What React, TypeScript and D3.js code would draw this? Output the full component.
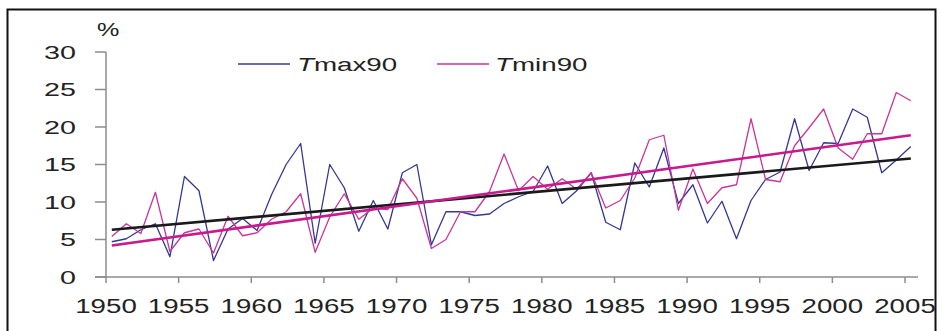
import * as d3 from 'd3';

// Années 1950–2005
const years: number[] = d3.range(1950, 2006);

// Fréquence des jours chauds (%)
const tmax90: number[] = [
  4.7, 5.1, 6.3, 7.1, 2.7, 13.4, 11.5, 2.2, 6.4, 7.8,
  6.2, 11.0, 15.0, 17.8, 4.5, 15.0, 11.9, 6.1, 10.2, 6.4,
  13.9, 15.0, 4.3, 8.7, 8.7, 8.2, 8.4, 9.8, 10.7, 11.4,
  14.8, 9.8, 11.5, 13.9, 7.3, 6.3, 15.2, 12.0, 17.2, 9.8,
  12.3, 7.2, 10.1, 5.1, 10.2, 13.0, 14.0, 21.1, 14.2, 17.9,
  17.8, 22.4, 21.3, 13.9, 15.6, 17.4,
];

// Fréquence des nuits chaudes (%)
const tmin90: number[] = [
  5.4, 7.1, 5.8, 11.3, 3.4, 5.9, 6.4, 3.2, 8.1, 5.5,
  5.9, 7.7, 8.7, 11.1, 3.3, 8.0, 11.1, 7.7, 9.2, 9.0,
  13.1, 10.5, 3.8, 5.0, 8.7, 8.7, 11.4, 16.4, 11.5, 13.4,
  11.7, 13.1, 11.7, 13.9, 9.2, 10.2, 13.2, 18.3, 18.9, 8.9,
  14.4, 9.8, 11.9, 12.3, 21.1, 13.0, 12.7, 17.5, 19.9, 22.4,
  17.2, 15.7, 19.1, 19.1, 24.6, 23.5,
];

// Tendances linéaires (valeurs début / fin)
const trendYears: number[] = [1950, 2005];
const trendTmax: number[] = [6.3, 15.8];
const trendTmin: number[] = [4.2, 18.9];

const yTicks: number[] = [0, 5, 10, 15, 20, 25, 30];
const xTicks: number[] = d3.range(1950, 2006, 5);

const BLUE = '#343891';
const PINK = '#c8369a';
const PINK_TREND = '#c71a8e';
const AXIS = '#8c8c8c';
const FONT = '"Liberation Sans", Arial, sans-serif';

// Décalage des points au centre de la catégorie
const OFFSET = 0.4;

export default function App() {
  const W = 942;
  const H = 331;

  const x = d3.scaleLinear().domain([1950, 2005]).range([106, 905]);
  const y = d3.scaleLinear().domain([0, 30]).range([277, 52]);

  const line = d3.line<[number, number]>()
    .x(d => x(d[0] + OFFSET))
    .y(d => y(d[1]));

  const seriesMax = years.map((yr, i) => [yr, tmax90[i]] as [number, number]);
  const seriesMin = years.map((yr, i) => [yr, tmin90[i]] as [number, number]);
  const tMax = trendYears.map((yr, i) => [yr, trendTmax[i]] as [number, number]);
  const tMin = trendYears.map((yr, i) => [yr, trendTmin[i]] as [number, number]);

  const stretched = (tx: number, ty: number, sx: number) =>
    `translate(${tx},${ty}) scale(${sx},1)`;

  return (
    <svg
      width={W}
      height={H}
      style={{ position: 'absolute', left: 0, top: 0, background: '#fff' }}
      fontFamily={FONT}
    >
      {/* cadre */}
      <rect x={7.5} y={9.5} width={928} height={340} fill="none" stroke="#111" strokeWidth={2} />

      {/* axe Y */}
      <line x1={x(1950)} x2={x(1950)} y1={y(30)} y2={y(0)} stroke={AXIS} strokeWidth={1.5} />
      {yTicks.map(t => (
        <g key={t}>
          <line x1={x(1950) - 11} x2={x(1950)} y1={y(t)} y2={y(t)} stroke={AXIS} strokeWidth={1.5} />
          <text
            transform={stretched(76, y(t) + 6.5, 1.55)}
            textAnchor="end"
            fontSize={18.5}
            fill="#222"
          >
            {t}
          </text>
        </g>
      ))}
      <text transform={stretched(97, 36, 1.4)} fontSize={18} fill="#222">%</text>

      {/* axe X */}
      <line x1={95} x2={918} y1={y(0)} y2={y(0)} stroke={AXIS} strokeWidth={1.5} />
      {xTicks.map(t => (
        <g key={t}>
          <line x1={x(t)} x2={x(t)} y1={y(0)} y2={y(0) + 6} stroke={AXIS} strokeWidth={1.5} />
          <text
            transform={stretched(x(t), 313, 1.42)}
            textAnchor="middle"
            fontSize={19.5}
            fill="#222"
          >
            {t}
          </text>
        </g>
      ))}

      {/* séries */}
      <path d={line(seriesMax) ?? ''} fill="none" stroke={BLUE} strokeWidth={1.3} strokeLinejoin="round" />
      <path d={line(seriesMin) ?? ''} fill="none" stroke={PINK} strokeWidth={1.3} strokeLinejoin="round" />

      {/* tendances */}
      <path d={line(tMax) ?? ''} fill="none" stroke="#1a1a1a" strokeWidth={2.6} />
      <path d={line(tMin) ?? ''} fill="none" stroke={PINK_TREND} strokeWidth={2.6} />

      {/* légende */}
      <line x1={238} x2={290} y1={64} y2={64} stroke={BLUE} strokeWidth={1.3} />
      <text transform={stretched(297, 71, 1.46)} fontSize={19} fill="#222">
        <tspan fontStyle="italic">T</tspan>max90
      </text>
      <line x1={437} x2={489} y1={64} y2={64} stroke={PINK} strokeWidth={1.3} />
      <text transform={stretched(495, 71, 1.46)} fontSize={19} fill="#222">
        <tspan fontStyle="italic">T</tspan>min90
      </text>
    </svg>
  );
}
